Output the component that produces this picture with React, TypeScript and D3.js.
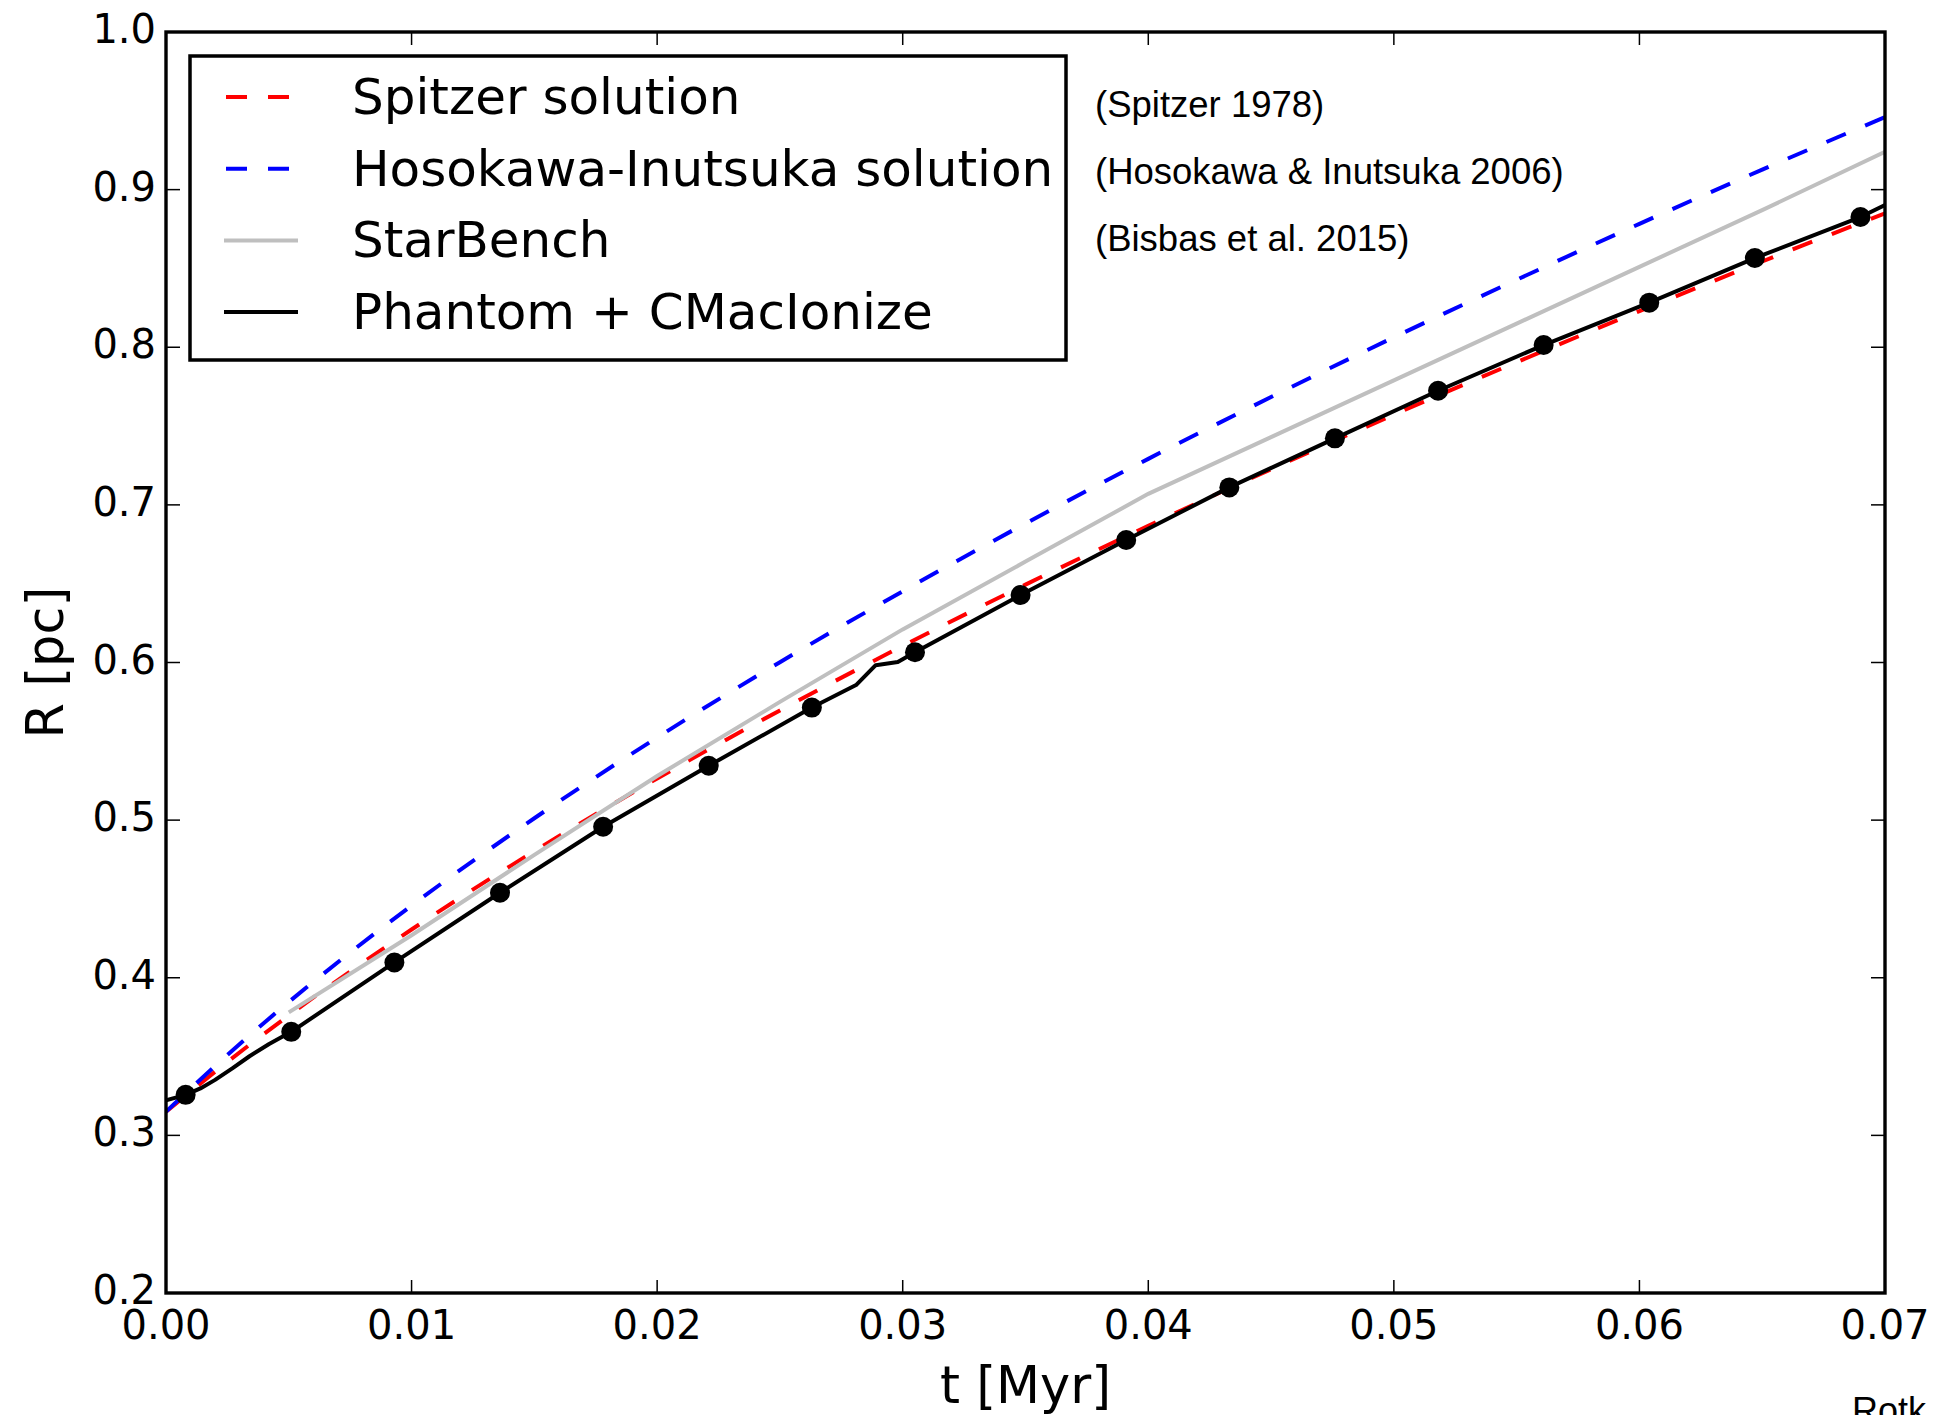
import React from "react";
import * as d3 from "d3";

// ---------- data ----------
const T_THEORY = [0, 0.0025, 0.005, 0.0075, 0.01, 0.015, 0.02, 0.025, 0.03, 0.035, 0.04, 0.045, 0.05, 0.055, 0.06, 0.065, 0.07];
const R_SPITZER = [0.315, 0.3466, 0.3761, 0.404, 0.4306, 0.4803, 0.5264, 0.5696, 0.6105, 0.6494, 0.6867, 0.7226, 0.7572, 0.7905, 0.8229, 0.8544, 0.885];
const R_HOSOKAWA = [0.315, 0.3511, 0.3846, 0.416, 0.4458, 0.5012, 0.5524, 0.6002, 0.6452, 0.6882, 0.7292, 0.7684, 0.8063, 0.8428, 0.8783, 0.9127, 0.946];

const T_STARBENCH = [0.005, 0.01, 0.015, 0.02, 0.025, 0.03, 0.035, 0.04, 0.045, 0.05, 0.055, 0.06, 0.065, 0.07];
const R_STARBENCH = [0.378, 0.427, 0.478, 0.528, 0.575, 0.621, 0.664, 0.707, 0.743, 0.779, 0.815, 0.851, 0.887, 0.924];

const T_SIM = [0, 0.0008, 0.0014, 0.002, 0.0027, 0.0034, 0.0042, 0.0051, 0.0093, 0.0136, 0.0178, 0.0221, 0.0263, 0.0281, 0.0289, 0.0298, 0.0305, 0.0348, 0.0391, 0.0433, 0.0476, 0.0518, 0.0561, 0.0604, 0.0647, 0.069, 0.07];
const R_SIM = [0.3223, 0.3257, 0.3298, 0.3352, 0.3425, 0.3502, 0.3580, 0.3657, 0.4097, 0.4539, 0.4958, 0.5345, 0.5714, 0.5857, 0.5983, 0.6003, 0.6065, 0.6428, 0.6777, 0.7111, 0.7422, 0.7724, 0.8014, 0.8283, 0.8566, 0.8826, 0.8902];

const T_MARKERS = [0.0008, 0.0051, 0.0093, 0.0136, 0.0178, 0.0221, 0.0263, 0.0305, 0.0348, 0.0391, 0.0433, 0.0476, 0.0518, 0.0561, 0.0604, 0.0647, 0.069];
const R_MARKERS = [0.3257, 0.3657, 0.4097, 0.4539, 0.4958, 0.5345, 0.5714, 0.6065, 0.6428, 0.6777, 0.7111, 0.7422, 0.7724, 0.8014, 0.8283, 0.8566, 0.8826];

const X_TICKS = [0, 0.01, 0.02, 0.03, 0.04, 0.05, 0.06, 0.07];
const Y_TICKS = [0.2, 0.3, 0.4, 0.5, 0.6, 0.7, 0.8, 0.9, 1.0];

const LEGEND_LABELS = ["Spitzer solution", "Hosokawa-Inutsuka solution", "StarBench", "Phantom + CMacIonize"];
const REFERENCES = ["(Spitzer 1978)", "(Hosokawa & Inutsuka 2006)", "(Bisbas et al. 2015)"];

// ---------- layout ----------
const W = 1940;
const H = 1415;
const L = 166, R = 1885, T = 32, B = 1293;
const FONT = "'DejaVu Sans', sans-serif";
const FONT2 = "'Liberation Sans', Arial, sans-serif";

export default function App() {
  const x = d3.scaleLinear().domain([0, 0.07]).range([L, R]);
  const y = d3.scaleLinear().domain([0.2, 1.0]).range([B, T]);

  const toPts = (ts: number[], rs: number[]) => ts.map((t, i) => [t, rs[i]] as [number, number]);
  const smooth = d3.line<[number, number]>().x((d) => x(d[0])).y((d) => y(d[1])).curve(d3.curveMonotoneX);
  const straight = d3.line<[number, number]>().x((d) => x(d[0])).y((d) => y(d[1]));

  const legendStyles = [
    { stroke: "#ff0000", dash: "21 21", w: 4 },
    { stroke: "#0000ff", dash: "21 21", w: 4 },
    { stroke: "#bfbfbf", dash: undefined, w: 4 },
    { stroke: "#000000", dash: undefined, w: 4 },
  ];

  return (
    <svg
      width={W}
      height={H}
      viewBox={`0 0 ${W} ${H}`}
      style={{ position: "absolute", left: 0, top: 0, background: "#fff" }}
    >
      <defs>
        <clipPath id="plotclip">
          <rect x={L} y={T} width={R - L} height={B - T} />
        </clipPath>
      </defs>
      <rect x={0} y={0} width={W} height={H} fill="#fff" />

      <g clipPath="url(#plotclip)" fill="none">
        <path d={smooth(toPts(T_THEORY, R_SPITZER)) || ""} stroke="#ff0000" strokeWidth={4} strokeDasharray="21 21" />
        <path d={smooth(toPts(T_THEORY, R_HOSOKAWA)) || ""} stroke="#0000ff" strokeWidth={4} strokeDasharray="21 21" />
        <path d={straight(toPts(T_STARBENCH, R_STARBENCH)) || ""} stroke="#bfbfbf" strokeWidth={4} />
        <path d={straight(toPts(T_SIM, R_SIM)) || ""} stroke="#000" strokeWidth={4} strokeLinejoin="round" />
        {T_MARKERS.map((t, i) => (
          <circle key={i} cx={x(t)} cy={y(R_MARKERS[i])} r={10} fill="#000" />
        ))}
      </g>

      {/* ticks */}
      {X_TICKS.map((t, i) => (
        <g key={"xt" + i}>
          <line x1={x(t)} x2={x(t)} y1={B} y2={B - 13} stroke="#000" strokeWidth={1.5} />
          <line x1={x(t)} x2={x(t)} y1={T} y2={T + 13} stroke="#000" strokeWidth={1.5} />
          <text x={x(t)} y={B + 46} textAnchor="middle" fontFamily={FONT} fontSize={40} fill="#000">
            {t.toFixed(2)}
          </text>
        </g>
      ))}
      {Y_TICKS.map((v, i) => (
        <g key={"yt" + i}>
          <line x1={L} x2={L + 14} y1={y(v)} y2={y(v)} stroke="#000" strokeWidth={1.5} />
          <line x1={R} x2={R - 14} y1={y(v)} y2={y(v)} stroke="#000" strokeWidth={1.5} />
          <text x={156} y={y(v) + 11} textAnchor="end" fontFamily={FONT} fontSize={40} fill="#000">
            {v.toFixed(1)}
          </text>
        </g>
      ))}

      {/* frame */}
      <rect x={L} y={T} width={R - L} height={B - T} fill="none" stroke="#000" strokeWidth={3.4} />

      {/* axis labels */}
      <text x={(L + R) / 2} y={1403} textAnchor="middle" fontFamily={FONT} fontSize={51} fill="#000">
        t [Myr]
      </text>
      <text
        transform={`translate(63, ${(T + B) / 2}) rotate(-90)`}
        textAnchor="middle"
        fontFamily={FONT}
        fontSize={51}
        fill="#000"
      >
        R [pc]
      </text>

      {/* legend */}
      <rect x={190} y={56} width={876} height={304} fill="#fff" stroke="#000" strokeWidth={3.5} />
      {LEGEND_LABELS.map((lab, i) => {
        const cy = 97 + i * 71.7;
        const s = legendStyles[i];
        return (
          <g key={"lg" + i}>
            <line
              x1={s.dash ? 226 : 224}
              x2={s.dash ? 290 : 298}
              y1={cy}
              y2={cy}
              stroke={s.stroke}
              strokeWidth={s.w}
              strokeDasharray={s.dash}
            />
            <text x={352} y={cy + 17} fontFamily={FONT} fontSize={50} fill="#000">
              {lab}
            </text>
          </g>
        );
      })}

      {/* reference annotations */}
      {REFERENCES.map((txt, i) => (
        <text key={"ref" + i} x={1095} y={117 + i * 67} fontFamily={FONT2} fontSize={36.5} fill="#000">
          {txt}
        </text>
      ))}

      <text x={1852} y={1423} fontFamily={FONT2} fontSize={36} fill="#000">
        Rotk
      </text>
    </svg>
  );
}
